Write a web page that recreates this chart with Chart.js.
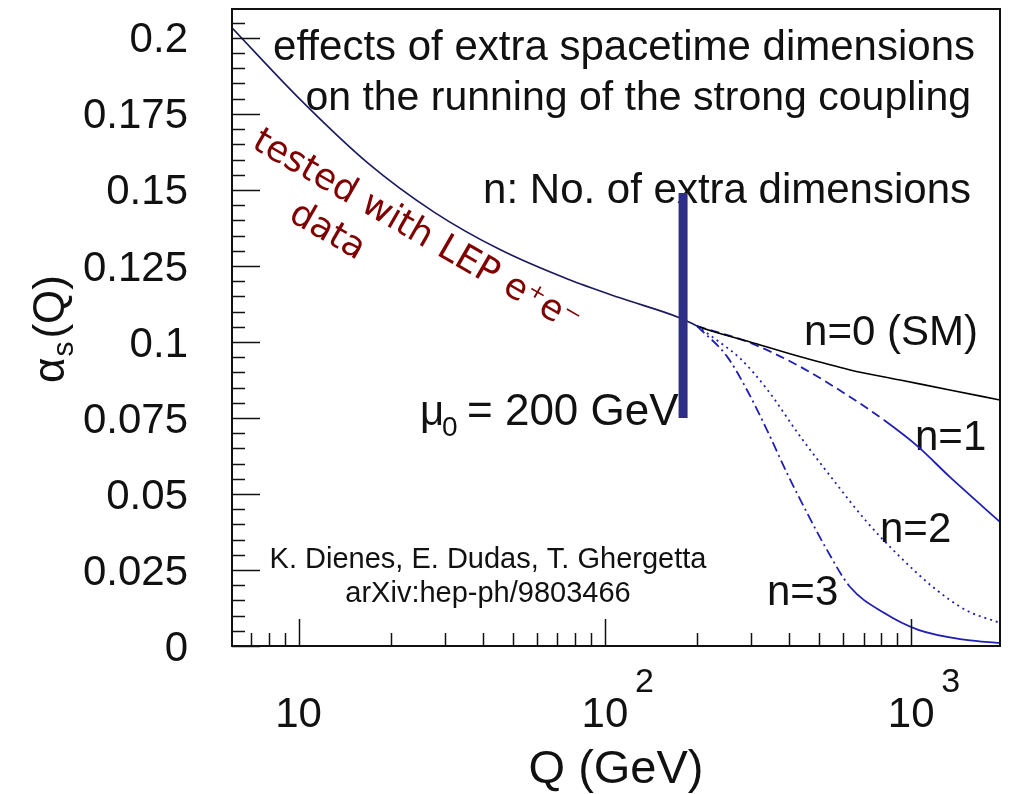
<!DOCTYPE html>
<html>
<head>
<meta charset="utf-8">
<script src="https://cdn.jsdelivr.net/npm/chart.js@4.4.0/dist/chart.umd.min.js"></script>
<style>
  body { margin: 0; background: #fff; }
  #wrap { width: 1017px; height: 794px; }
</style>
</head>
<body>
<div id="wrap"><canvas id="alphaChart" width="1017" height="794"></canvas></div>
<script>
// running coupling (Q in GeV)
const qSM = [6.06, 10.15, 16.8, 27.6, 45.6, 75.5, 112, 176, 204, 298, 435, 632, 920, 1337, 1950];
const alphaSM = [0.2033, 0.1796, 0.1589, 0.1428, 0.1303, 0.1207, 0.1145, 0.1079, 0.1049, 0.1000, 0.0951, 0.0908, 0.0875, 0.0842, 0.0809];

const qN1 = [200, 298, 435, 632, 815, 1055, 1337, 1950];
const alphaN1 = [0.1052, 0.0997, 0.0918, 0.0819, 0.0743, 0.0655, 0.0556, 0.0408];

const qN2 = [200, 240, 277, 338, 435, 557, 714, 920, 1178, 1509, 1950];
const alphaN2 = [0.1052, 0.0995, 0.0945, 0.0845, 0.0688, 0.0546, 0.0410, 0.0293, 0.0194, 0.0118, 0.0076];

const qN3 = [200, 251, 291, 338, 393, 457, 531, 632, 815, 1055, 1509, 1950];
const alphaN3 = [0.1052, 0.0951, 0.0842, 0.0711, 0.0569, 0.0438, 0.0316, 0.0194, 0.0109, 0.0053, 0.0020, 0.0010];

// mu_0 marker
const muBarQ = [180, 180];
const muBarAlpha = [0.075, 0.149];

const yTickValues = [0, 0.025, 0.05, 0.075, 0.1, 0.125, 0.15, 0.175, 0.2];
const yTickLabels = ['0', '0.025', '0.05', '0.075', '0.1', '0.125', '0.15', '0.175', '0.2'];
const xTickValues = [10, 100, 1000];
const xTickLabels = ['10', '10', '10'];
const xTickExponents = ['', '2', '3'];

const FONT = '"Liberation Sans", Arial, sans-serif';

function toPoints(xs, ys) {
    return xs.map((x, i) => ({ x: x, y: ys[i] }));
}

// frame, inward ticks and free text, ROOT style
const rootDecor = {
    id: 'rootDecor',
    beforeDatasetsDraw(chart) {
        const ctx = chart.ctx;
        ctx.save();
        ctx.fillStyle = '#111';
        ctx.textBaseline = 'alphabetic';

        ctx.textAlign = 'right';
        ctx.font = '42px ' + FONT;
        ctx.fillText('effects of extra spacetime dimensions', 975, 60);
        ctx.font = '41px ' + FONT;
        ctx.fillText('on the running of the strong coupling', 971, 110);
        ctx.font = '42px ' + FONT;
        ctx.fillText('n: No. of extra dimensions', 971, 203);

        ctx.fillText('n=0 (SM)', 978, 345);
        ctx.textAlign = 'left';
        ctx.fillText('n=1', 915, 450);
        ctx.fillText('n=2', 880, 542);
        ctx.fillText('n=3', 767, 605);

        // mu_0 = 200 GeV
        ctx.fillText('\u03bc', 420, 425);
        ctx.font = '28px ' + FONT;
        ctx.fillText('0', 442, 436);
        ctx.font = '44px ' + FONT;
        ctx.fillText('= 200 GeV', 467, 425);

        ctx.font = '29px ' + FONT;
        ctx.textAlign = 'center';
        ctx.fillText('K. Dienes, E. Dudas, T. Ghergetta', 488, 568);
        ctx.fillText('arXiv:hep-ph/9803466', 488, 602);

        // rotated note
        ctx.fillStyle = '#800000';
        ctx.font = '36px "DejaVu Sans", sans-serif';
        ctx.textBaseline = 'middle';
        ctx.save();
        ctx.translate(416, 232);
        ctx.rotate(30 * Math.PI / 180);
        ctx.fillText('tested with LEP e\u207ae\u207b', 0, 0);
        ctx.restore();
        ctx.save();
        ctx.translate(327, 232);
        ctx.rotate(30 * Math.PI / 180);
        ctx.fillText('data', 0, 0);
        ctx.restore();
        ctx.restore();
    },
    afterDatasetsDraw(chart) {
        const ctx = chart.ctx;
        const area = chart.chartArea;
        const xs = chart.scales.x;
        const ys = chart.scales.y;
        ctx.save();
        ctx.strokeStyle = '#111';
        ctx.lineWidth = 1.5;
        ctx.beginPath();
        // y ticks every 0.005, major every 0.025
        for (let i = 0; i <= 41; i++) {
            const v = i * 0.005;
            if (v > ys.max) break;
            const py = Math.round(ys.getPixelForValue(v)) + 0.5;
            const len = i % 5 === 0 ? 28 : 13;
            ctx.moveTo(area.left, py);
            ctx.lineTo(area.left + len, py);
        }
        // x ticks on log decades
        [1, 10, 100, 1000].forEach(dec => {
            for (let m = 1; m <= 9; m++) {
                const v = m * dec;
                if (v < xs.min || v > xs.max) continue;
                const px = Math.round(xs.getPixelForValue(v)) + 0.5;
                const len = m === 1 ? 27 : 13;
                ctx.moveTo(px, area.bottom);
                ctx.lineTo(px, area.bottom - len);
            }
        });
        ctx.stroke();
        ctx.lineWidth = 2;
        ctx.strokeRect(area.left, area.top, area.right - area.left, area.bottom - area.top);
        ctx.restore();
    },
    afterDraw(chart) {
        const ctx = chart.ctx;
        const xs = chart.scales.x;
        ctx.save();
        ctx.fillStyle = '#111';
        ctx.textBaseline = 'alphabetic';
        ctx.textAlign = 'left';
        // exponents for 10^2, 10^3
        ctx.font = '34px ' + FONT;
        xTickValues.forEach((v, i) => {
            if (!xTickExponents[i]) return;
            ctx.fillText(xTickExponents[i], xs.getPixelForValue(v) + 30, 692);
        });
        // y title alpha_s(Q)
        ctx.translate(64, 383);
        ctx.rotate(-Math.PI / 2);
        ctx.font = '44px ' + FONT;
        ctx.fillText('\u03b1', 0, 0);
        const wa = ctx.measureText('\u03b1').width;
        ctx.font = '30px ' + FONT;
        ctx.fillText('s', wa + 1, 9);
        const ws = ctx.measureText('s').width;
        ctx.font = '44px ' + FONT;
        ctx.fillText('(Q)', wa + ws + 4, 0);
        ctx.restore();
    }
};

function createAlphaChart() {
    const ctx = document.getElementById('alphaChart').getContext('2d');
    const blue = '#1f1fb4';
    new Chart(ctx, {
        type: 'line',
        data: {
            datasets: [
                {
                    label: 'mu0',
                    data: toPoints(muBarQ, muBarAlpha),
                    borderColor: '#2e2e86',
                    borderWidth: 9,
                    borderCapStyle: 'butt'
                },
                {
                    label: 'n=0 (SM)',
                    data: toPoints(qSM, alphaSM),
                    borderColor: '#000',
                    borderWidth: 1.6,
                    cubicInterpolationMode: 'monotone',
                    segment: {
                        borderColor: c => c.p1.parsed.x <= 204 ? '#1a1a5e' : '#000'
                    }
                },
                {
                    label: 'n=1',
                    data: toPoints(qN1, alphaN1),
                    borderColor: blue,
                    borderWidth: 1.8,
                    cubicInterpolationMode: 'monotone',
                    segment: {
                        borderDash: c => c.p0.parsed.x < 800 ? [9, 5] : undefined
                    }
                },
                {
                    label: 'n=2',
                    data: toPoints(qN2, alphaN2),
                    borderColor: blue,
                    borderWidth: 1.8,
                    borderDash: [2, 4],
                    cubicInterpolationMode: 'monotone'
                },
                {
                    label: 'n=3',
                    data: toPoints(qN3, alphaN3),
                    borderColor: blue,
                    borderWidth: 1.8,
                    cubicInterpolationMode: 'monotone',
                    segment: {
                        borderDash: c => c.p0.parsed.x < 600 ? [10, 4, 2, 4] : undefined
                    }
                }
            ]
        },
        options: {
            responsive: false,
            animation: false,
            elements: { point: { radius: 0 } },
            layout: { padding: { top: 9, right: 17, left: 0, bottom: 0 } },
            plugins: {
                legend: { display: false },
                tooltip: { enabled: false }
            },
            scales: {
                x: {
                    type: 'logarithmic',
                    min: 6.06,
                    max: 1950,
                    grid: { display: false },
                    border: { display: false },
                    afterBuildTicks: s => { s.ticks = xTickValues.map(v => ({ value: v })); },
                    afterFit: s => { s.height = 148; s.paddingLeft = 0; s.paddingRight = 0; },
                    ticks: {
                        autoSkip: false,
                        maxRotation: 0,
                        padding: 36,
                        color: '#111',
                        font: { size: 42, family: FONT },
                        callback: (v, i) => xTickLabels[i]
                    },
                    title: {
                        display: true,
                        text: 'Q (GeV)',
                        color: '#111',
                        font: { size: 47, family: FONT, lineHeight: 1 },
                        padding: 0
                    }
                },
                y: {
                    type: 'linear',
                    min: 0,
                    max: 0.2095,
                    grid: { display: false },
                    border: { display: false },
                    afterBuildTicks: s => { s.ticks = yTickValues.map(v => ({ value: v })); },
                    afterFit: s => { s.width = 232; s.paddingTop = 0; s.paddingBottom = 0; },
                    ticks: {
                        padding: 36,
                        labelOffset: 3,
                        color: '#111',
                        font: { size: 42, family: FONT },
                        callback: (v, i) => yTickLabels[i]
                    }
                }
            }
        },
        plugins: [rootDecor]
    });
}

window.onload = createAlphaChart;
</script>
</body>
</html>
